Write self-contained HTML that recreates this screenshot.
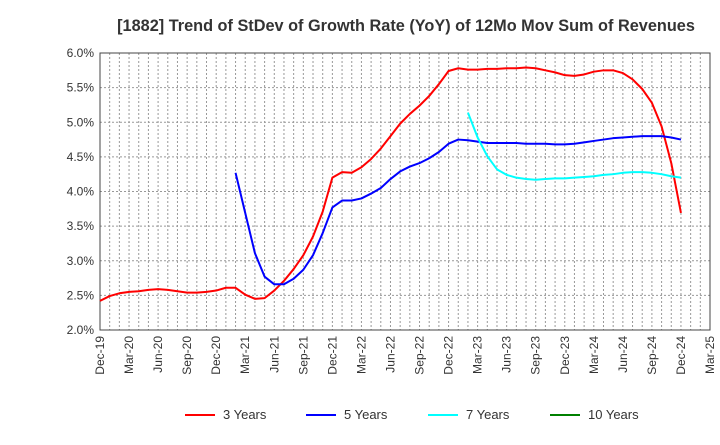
<!DOCTYPE html>
<html><head><meta charset="utf-8"><style>
body{margin:0;background:#fff;font-family:"Liberation Sans",sans-serif}
</style></head><body>
<svg id="chart" width="720" height="440" xmlns="http://www.w3.org/2000/svg" font-family="Liberation Sans, sans-serif">
<text x="406" y="31" text-anchor="middle" font-size="16.3" font-weight="bold" fill="#333">[1882]  Trend of StDev of Growth Rate (YoY) of 12Mo Mov Sum of Revenues</text>
<g id="grid"></g>
<g id="axes"></g>
<g id="series"></g>
<g id="legend"></g>
</svg>
<script>
const yTicks=[2.0,2.5,3.0,3.5,4.0,4.5,5.0,5.5,6.0];
const xLabels=["Dec-19","Mar-20","Jun-20","Sep-20","Dec-20","Mar-21","Jun-21","Sep-21","Dec-21","Mar-22","Jun-22","Sep-22","Dec-22","Mar-23","Jun-23","Sep-23","Dec-23","Mar-24","Jun-24","Sep-24","Dec-24","Mar-25"];
const seriesNames=["3 Years","5 Years","7 Years","10 Years"];
const seriesColors=["#ff0000","#0000ff","#00ffff","#008000"];
const s3Start=0;
const s3=[2.42,2.49,2.53,2.55,2.56,2.58,2.59,2.58,2.56,2.54,2.54,2.55,2.57,2.61,2.61,2.51,2.45,2.46,2.57,2.71,2.88,3.08,3.35,3.71,4.20,4.28,4.27,4.35,4.47,4.62,4.80,4.98,5.12,5.24,5.38,5.55,5.74,5.78,5.76,5.76,5.77,5.77,5.78,5.78,5.79,5.78,5.75,5.72,5.68,5.67,5.69,5.73,5.75,5.75,5.71,5.62,5.48,5.28,4.94,4.41,3.69];
const s5Start=14;
const s5=[4.27,3.69,3.11,2.77,2.66,2.66,2.74,2.87,3.08,3.40,3.77,3.87,3.87,3.90,3.97,4.05,4.18,4.29,4.36,4.41,4.48,4.57,4.69,4.75,4.74,4.72,4.70,4.70,4.70,4.70,4.69,4.69,4.69,4.68,4.68,4.69,4.71,4.73,4.75,4.77,4.78,4.79,4.80,4.80,4.80,4.78,4.75];
const s7Start=38;
const s7=[5.14,4.78,4.51,4.32,4.24,4.20,4.18,4.17,4.18,4.19,4.19,4.20,4.21,4.22,4.24,4.25,4.27,4.28,4.28,4.27,4.25,4.22,4.20];
const s10Start=0;
const s10=[];
const L=100,R=710,T=53,B=330,NM=63;
const X=m=>L+(R-L)*m/NM;
const Y=v=>B-(v-2)/4*(B-T);
const NS="http://www.w3.org/2000/svg";
function mk(t,a,p){const e=document.createElementNS(NS,t);for(const k in a)e.setAttribute(k,a[k]);p.appendChild(e);return e;}
const grid=document.getElementById('grid'),axes=document.getElementById('axes'),ser=document.getElementById('series'),leg=document.getElementById('legend');
for(let m=1;m<NM;m++){const l=mk('line',{x1:X(m),x2:X(m),y1:T,y2:B,stroke:'#999','stroke-width':1,'stroke-dasharray':'2,2'},grid);

}
yTicks.forEach(v=>{const l=mk('line',{x1:L,x2:R,y1:Y(v),y2:Y(v),stroke:'#999','stroke-width':1,'stroke-dasharray':'2,2'},grid);


const t=mk('text',{x:L-6,y:Y(v)+4,'text-anchor':'end','font-size':12,fill:'#333'},axes);


t.textContent=v.toFixed(1)+'%';});
const fr=mk('rect',{x:L,y:T,width:R-L,height:B-T,fill:'none',stroke:'#444','stroke-width':1},axes);


xLabels.forEach((s,i)=>{const x=X(i*3);const t=mk('text',{x:0,y:0,'text-anchor':'end','font-size':12,fill:'#333',transform:`translate(${x+4},${B+6}) rotate(-90)`},axes);


t.textContent=s;});
[[s3,s3Start],[s5,s5Start],[s7,s7Start],[s10,s10Start]].forEach(([d,st],i)=>{if(!d.length)return;
const p=mk('polyline',{points:d.map((v,j)=>X(st+j)+','+Y(v)).join(' '),fill:'none',stroke:seriesColors[i],'stroke-width':2,'stroke-linejoin':'round'},ser);

});
const lx=[185,306,428,550];
seriesNames.forEach((n,i)=>{const g=mk('g',{},leg);


mk('line',{x1:lx[i],x2:lx[i]+30,y1:415,y2:415,stroke:seriesColors[i],'stroke-width':2},g);
const t=mk('text',{x:lx[i]+38,y:419,'font-size':13,fill:'#333'},g);t.textContent=n;});
</script>
</body></html>
